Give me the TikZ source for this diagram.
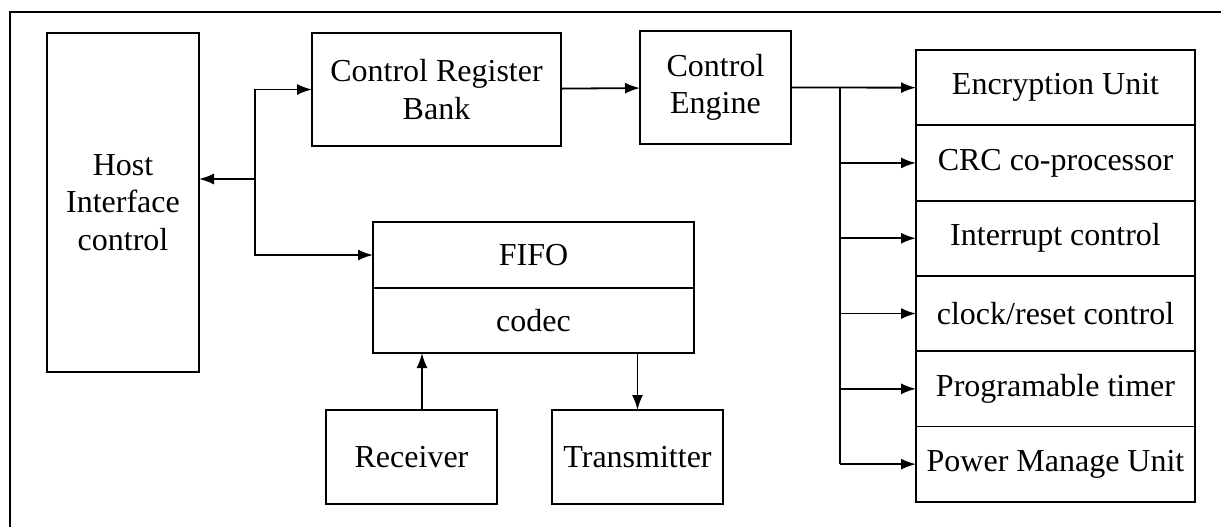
\documentclass[tikz,border=0pt]{standalone}
\usepackage{fontspec}
\setmainfont{Liberation Serif}
\usetikzlibrary{positioning,calc,arrows.meta}

\tikzset{
  blk/.style={draw=black,line width=0.9pt,align=center,inner sep=0pt,outer sep=0pt,
    font=\fontsize{16}{18.75}\selectfont},
  cell/.style={blk,minimum width=139.5pt,minimum height=37.65pt},
  link/.style={line width=0.9pt,-{Latex[length=7.5pt,width=5.5pt]}},
}

\begin{document}
\begin{tikzpicture}[x=0.5pt,y=-0.5pt]
		\useasboundingbox (0,0) rectangle (1221,527);
		\draw[line width=0.9pt] (1221,12) -- (10,12) -- (10,527);
		
		\node[blk,minimum width=76pt,minimum height=169.5pt] (host) at (123,202.5) {Host\\Interface\\control};
		
		\node[blk,minimum width=124.5pt,minimum height=56.5pt] (crb) at (436.5,89.5) {Control Register\\Bank};
		
		\node[blk,minimum width=75.5pt,minimum height=56.5pt] (ce) at (715.5,87.5) {Control\\Engine};
		
		\node[blk,minimum width=160.5pt,minimum height=33pt] (fifo) at (533.5,255) {FIFO};
		\node[blk,minimum width=160.5pt,minimum height=32.5pt,anchor=north] (codec) at (fifo.south) {codec};
		
		\node[blk,minimum width=85.5pt,minimum height=47pt] (rx) at (411.5,457) {Receiver};
		\node[blk,minimum width=85.5pt,minimum height=47pt] (tx) at (637.5,457) {Transmitter};
		
		% right column of units
		\node[cell] (enc) at (1055.5,87.65) {Encryption Unit};
		\node[cell,anchor=north] (crc) at (enc.south) {CRC co-processor};
		\node[cell,anchor=north] (irq) at (crc.south) {Interrupt control};
		\node[cell,anchor=north] (clk) at (irq.south) {clock/reset control};
		\node[cell,anchor=north] (tmr) at (clk.south) {Programable timer};
		\node[cell,anchor=north] (pmu) at (tmr.south) {Power Manage Unit};
		
		% host side
		\coordinate (hj) at (255,179);
		\draw[link] (hj) -- (hj -| host.east);
		\draw[link] (hj) |- (crb.west);
		\draw[link] (hj) |- (fifo.west);
		
		\draw[link] (crb) -- (ce);
		
		% bus to the units
		\coordinate (bus) at (840,87.65);
		\draw[link] (ce.east) -- (enc.west);
		\draw[line width=0.9pt] (bus) -- (bus |- pmu.west);
		\foreach \u in {crc,irq,clk,tmr,pmu}
			\draw[link] (bus |- \u.west) -- (\u.west);
		
		% codec side
		\draw[link] ([xshift=5.25pt]rx.north) -- ([xshift=5.25pt]rx.north |- codec.south);
		\draw[link] (codec.south -| tx.north) -- (tx.north);
	\end{tikzpicture}
\end{document}
